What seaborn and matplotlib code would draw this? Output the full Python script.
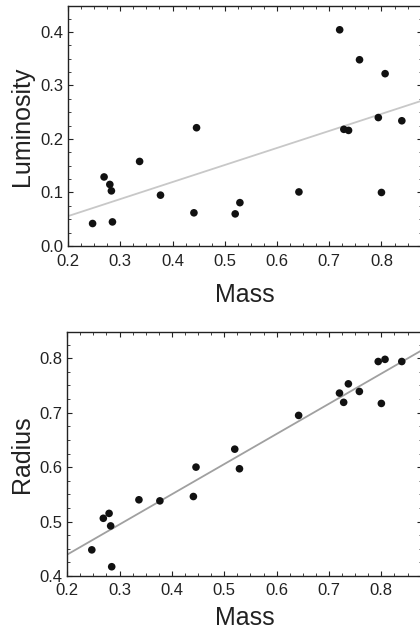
import numpy as np
import pandas as pd
import matplotlib
matplotlib.use("Agg")
import matplotlib.pyplot as plt
from matplotlib.ticker import AutoMinorLocator, MultipleLocator
import seaborn as sns

# star data
mass = [0.247, 0.269, 0.280, 0.283, 0.285, 0.337, 0.377, 0.441, 0.446, 0.520,
        0.529, 0.642, 0.720, 0.728, 0.737, 0.758, 0.794, 0.800, 0.807, 0.839]
luminosity = [0.042, 0.129, 0.115, 0.103, 0.045, 0.158, 0.095, 0.062, 0.221, 0.060,
              0.081, 0.101, 0.404, 0.218, 0.216, 0.348, 0.240, 0.100, 0.322, 0.234]
radius = [0.448, 0.506, 0.515, 0.492, 0.417, 0.540, 0.538, 0.546, 0.600, 0.633,
          0.597, 0.695, 0.736, 0.719, 0.753, 0.739, 0.794, 0.717, 0.798, 0.794]

df = pd.DataFrame({"Mass": mass, "Luminosity": luminosity, "Radius": radius})

sns.set_style("ticks")
plt.rcParams["font.family"] = ["Liberation Sans", "DejaVu Sans"]
plt.rcParams.update({
    "xtick.direction": "in", "ytick.direction": "in",
    "xtick.top": True, "ytick.right": True,
    "xtick.major.size": 3.5, "ytick.major.size": 3.5,
    "xtick.minor.size": 2, "ytick.minor.size": 2,
    "axes.linewidth": 1.0,
    "xtick.color": "#222222", "ytick.color": "#222222",
    "axes.edgecolor": "#222222",
})

fig = plt.figure(figsize=(4.2, 6.34), dpi=100)
ax1 = fig.add_axes([0.162, 0.612, 0.842, 0.379])
ax2 = fig.add_axes([0.160, 0.0915, 0.844, 0.3855])


def panel(ax, ycol, ylim, ystep, line_color, xpad, lpad):
    ax.set_xlim(0.2, 0.877)
    ax.set_ylim(*ylim)
    sns.regplot(data=df, x="Mass", y=ycol, ax=ax, ci=None, truncate=False,
                scatter_kws=dict(s=30, color="#111111", alpha=1,
                                 edgecolor="none", zorder=3),
                line_kws=dict(color=line_color, lw=1.3, zorder=2))
    ax.set_xlim(0.2, 0.877)
    ax.set_ylim(*ylim)
    ax.xaxis.set_major_locator(MultipleLocator(0.1))
    ax.yaxis.set_major_locator(MultipleLocator(ystep))
    ax.xaxis.set_minor_locator(AutoMinorLocator(4))
    ax.yaxis.set_minor_locator(AutoMinorLocator(4))
    ax.tick_params(which="both", top=True, right=True, labelsize=12,
                   labelcolor="#222222")
    ax.tick_params(axis="x", pad=xpad)
    ax.set_xlabel("Mass", fontsize=18, color="#222222", labelpad=lpad)
    ax.set_ylabel(ycol, fontsize=18, color="#222222", labelpad=4)
    for s in ax.spines.values():
        s.set_visible(True)


panel(ax1, "Luminosity", (0.0, 0.449), 0.1, "#c8c8c8", 6, 10)
panel(ax2, "Radius", (0.4, 0.849), 0.1, "#a0a0a0", 5, 6)

fig.savefig("out.png", dpi=100)
